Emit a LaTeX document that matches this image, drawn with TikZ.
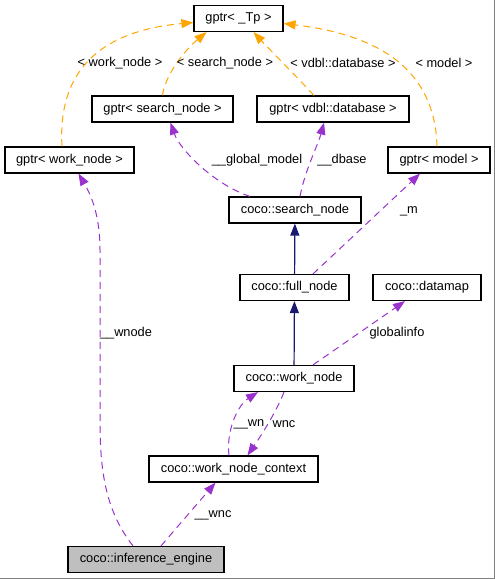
\documentclass[tikz,border=0pt]{standalone}
\usepackage{fontspec}
\setmainfont{Liberation Sans}
\usetikzlibrary{arrows.meta}
\newcommand{\dxfont}{\fontsize{12.8}{14}\selectfont}
\definecolor{tmplorange}{HTML}{FFA500}
\definecolor{usepurple}{HTML}{9A32CD}
\definecolor{inhnavy}{HTML}{191970}

\begin{document}
\begin{tikzpicture}[x=1pt,y=-1pt,
  cls/.style={draw, line width=1.2pt, minimum height=26pt, inner sep=0pt, font=\dxfont},
  lbl/.style={inner sep=0pt, font=\dxfont},
  tmpl/.style={draw=tmplorange, line width=1pt, dash pattern=on 7pt off 5pt, -{Triangle[length=12pt,width=9pt]}, tmplorange},
  usage/.style={draw=usepurple, line width=1pt, dash pattern=on 7pt off 5pt, -{Triangle[length=12pt,width=9pt]}, usepurple},
  inh/.style={draw=inhnavy, line width=1.2pt, -{Triangle[length=12pt,width=9pt]}, inhnavy}]
\useasboundingbox (0,0) rectangle (495,579);
\draw[gray, line width=1pt] (494,0) -- (494,578) -- (0,578);

\node[cls, minimum width=89pt] (t) at (238.5,18.5) {gptr< \_Tp >};
\node[cls, minimum width=141pt] (gs) at (162.5,109) {gptr< search\_node >};
\node[cls, minimum width=152pt] (gv) at (333,109) {gptr< vdbl::database >};
\node[cls, minimum width=129pt] (gw) at (69.5,160) {gptr< work\_node >};
\node[cls, minimum width=102pt] (gm) at (439,160) {gptr< model >};
\node[cls, minimum width=132pt] (sn) at (295,210) {coco::search\_node};
\node[cls, minimum width=109pt] (fn) at (294.5,287.5) {coco::full\_node};
\node[cls, minimum width=108pt] (dm) at (427,287.5) {coco::datamap};
\node[cls, minimum width=120pt] (wn) at (294,378.5) {coco::work\_node};
\node[cls, minimum width=169pt] (wc) at (233.5,469) {coco::work\_node\_context};
\node[cls, minimum width=156pt, fill=lightgray] (ie) at (146,559.5) {coco::inference\_engine};

% template instances
\path[tmpl] ([xshift=-7.5pt]gw.north) .. controls (58,80) and (90,32) .. ([yshift=-4pt]t.west);
\path[tmpl] (gs.north) .. controls (165,75) and (185,50) .. ([xshift=-32pt]t.south);
\path[tmpl] ([xshift=-19pt]gv.north) .. controls (295,75) and (270,50) .. ([xshift=15pt]t.south);
\path[tmpl] ([xshift=-2pt]gm.north) .. controls (435,70) and (380,35) .. ([yshift=-5pt]t.east);
\node[lbl] (lw) at (120,63) {< work\_node >};
\node[lbl] (ls) at (225,63) {< search\_node >};
\node[lbl] (lv) at (343,63) {< vdbl::database >};
\node[lbl] (lm) at (444,63) {< model >};

% members
\path[usage] ([xshift=-45pt]sn.north) .. controls (215,185) and (180,150) .. ([xshift=8pt]gs.south);
\path[usage] ([xshift=5pt]sn.north) .. controls (305,170) and (318,145) .. ([xshift=-9pt]gv.south);
\path[usage] ([xshift=18.5pt]fn.north) -- ([xshift=-19pt]gm.south);
\path[usage] ([xshift=19pt]wn.north) -- ([xshift=-22pt]dm.south);
\path[usage] ([xshift=-13pt]ie.north) .. controls (105,510) and (100,470) .. (100,420)
  -- (100,250) .. controls (100,210) and (88,190) .. ([xshift=9pt]gw.south);
\path[usage] ([xshift=-4.5pt]wc.north) .. controls (226,430) and (238,405) .. ([xshift=-36pt]wn.south);
\path[usage] ([xshift=-10pt]wn.south) .. controls (275,415) and (258,440) .. ([xshift=14pt]wc.north);
\path[usage] ([xshift=15pt]ie.north) -- ([xshift=-18pt]wc.south);
\node[lbl] (lg) at (257,160) {\_\_global\_model};
\node[lbl] (ld) at (342,160) {\_\_dbase};
\node[lbl] (lmm) at (409,211) {\_m};
\node[lbl] (lgi) at (397,333) {globalinfo};
\node[lbl] (lwn) at (126,333) {\_\_wnode};
\node[lbl] (lwn2) at (249,424) {\_\_wn};
\node[lbl] (lwc) at (284,424) {wnc};
\node[lbl] (lwc2) at (213,515) {\_\_wnc};

% inheritance
\path[inh] (fn) -- (sn);
\path[inh] (wn) -- (fn);
\end{tikzpicture}
\end{document}
